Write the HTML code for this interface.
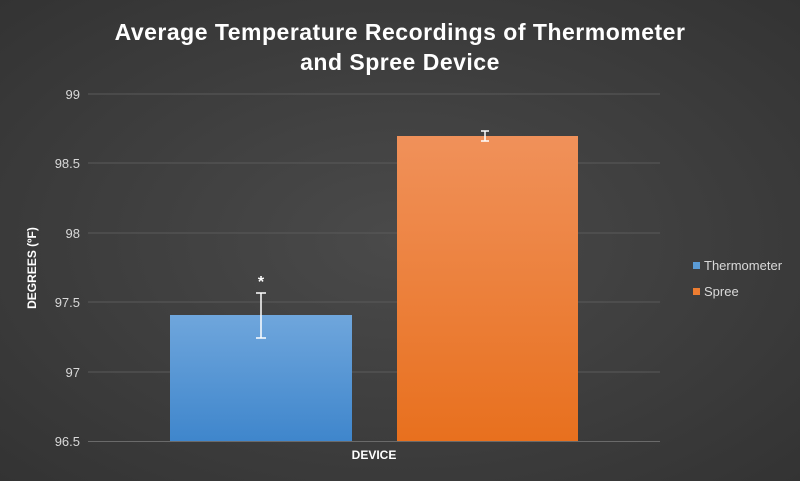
<!DOCTYPE html>
<html><head><style>
body{margin:0;width:800px;height:481px;overflow:hidden;background:radial-gradient(ellipse at center,#4a4a4a 0%,#3a3a3a 70%,#333 100%);font-family:"Liberation Sans",sans-serif;}
</style></head><body>
<svg width="800" height="481" xmlns="http://www.w3.org/2000/svg" style="position:absolute;left:0;top:0">
<defs>
<linearGradient id="b" x1="0" y1="0" x2="0" y2="1"><stop offset="0" stop-color="#6fa6dc"/><stop offset="1" stop-color="#3f86cc"/></linearGradient>
<linearGradient id="o" x1="0" y1="0" x2="0" y2="1"><stop offset="0" stop-color="#f0915a"/><stop offset="1" stop-color="#e8701e"/></linearGradient>
</defs>
<g font-weight="bold" fill="#fff" font-size="23" text-anchor="middle" style="letter-spacing:0.5px">
<text x="400" y="40">Average Temperature Recordings of Thermometer</text>
<text x="400" y="70">and Spree Device</text>
</g>
<g stroke="#5a5a5a" stroke-width="1">
<line x1="88" y1="94" x2="660" y2="94"/><line x1="88" y1="163" x2="660" y2="163"/>
<line x1="88" y1="233" x2="660" y2="233"/><line x1="88" y1="302" x2="660" y2="302"/>
<line x1="88" y1="372" x2="660" y2="372"/>
</g>
<line x1="88" y1="441.5" x2="660" y2="441.5" stroke="#6a6a6a"/>
<g fill="#d9d9d9" font-size="13" text-anchor="end">
<text x="80" y="99">99</text><text x="80" y="168">98.5</text><text x="80" y="238">98</text>
<text x="80" y="307">97.5</text><text x="80" y="377">97</text><text x="80" y="446">96.5</text>
</g>
<rect x="170" y="315" width="182" height="126" fill="url(#b)"/>
<rect x="397" y="136" width="181" height="305" fill="url(#o)"/>
<g stroke="#fff" stroke-width="1.5">
<line x1="261" y1="293" x2="261" y2="338"/><line x1="256" y1="293" x2="266" y2="293"/><line x1="256" y1="338" x2="266" y2="338"/>
<line x1="485" y1="131" x2="485" y2="141"/><line x1="481" y1="131" x2="489" y2="131"/><line x1="481" y1="141" x2="489" y2="141"/>
</g>
<text x="261" y="287" fill="#fff" font-size="16" font-weight="bold" text-anchor="middle">*</text>
<text x="374" y="459" fill="#fff" font-size="12" font-weight="bold" text-anchor="middle">DEVICE</text>
<text transform="translate(36,268) rotate(-90)" fill="#fff" font-size="12" font-weight="bold" text-anchor="middle">DEGREES (ºF)</text>
<rect x="693" y="262" width="7" height="7" fill="#5b9bd5"/>
<text x="704" y="270" fill="#d9d9d9" font-size="13">Thermometer</text>
<rect x="693" y="288" width="7" height="7" fill="#ed7d31"/>
<text x="704" y="296" fill="#d9d9d9" font-size="13">Spree</text>
</svg>
</body></html>
